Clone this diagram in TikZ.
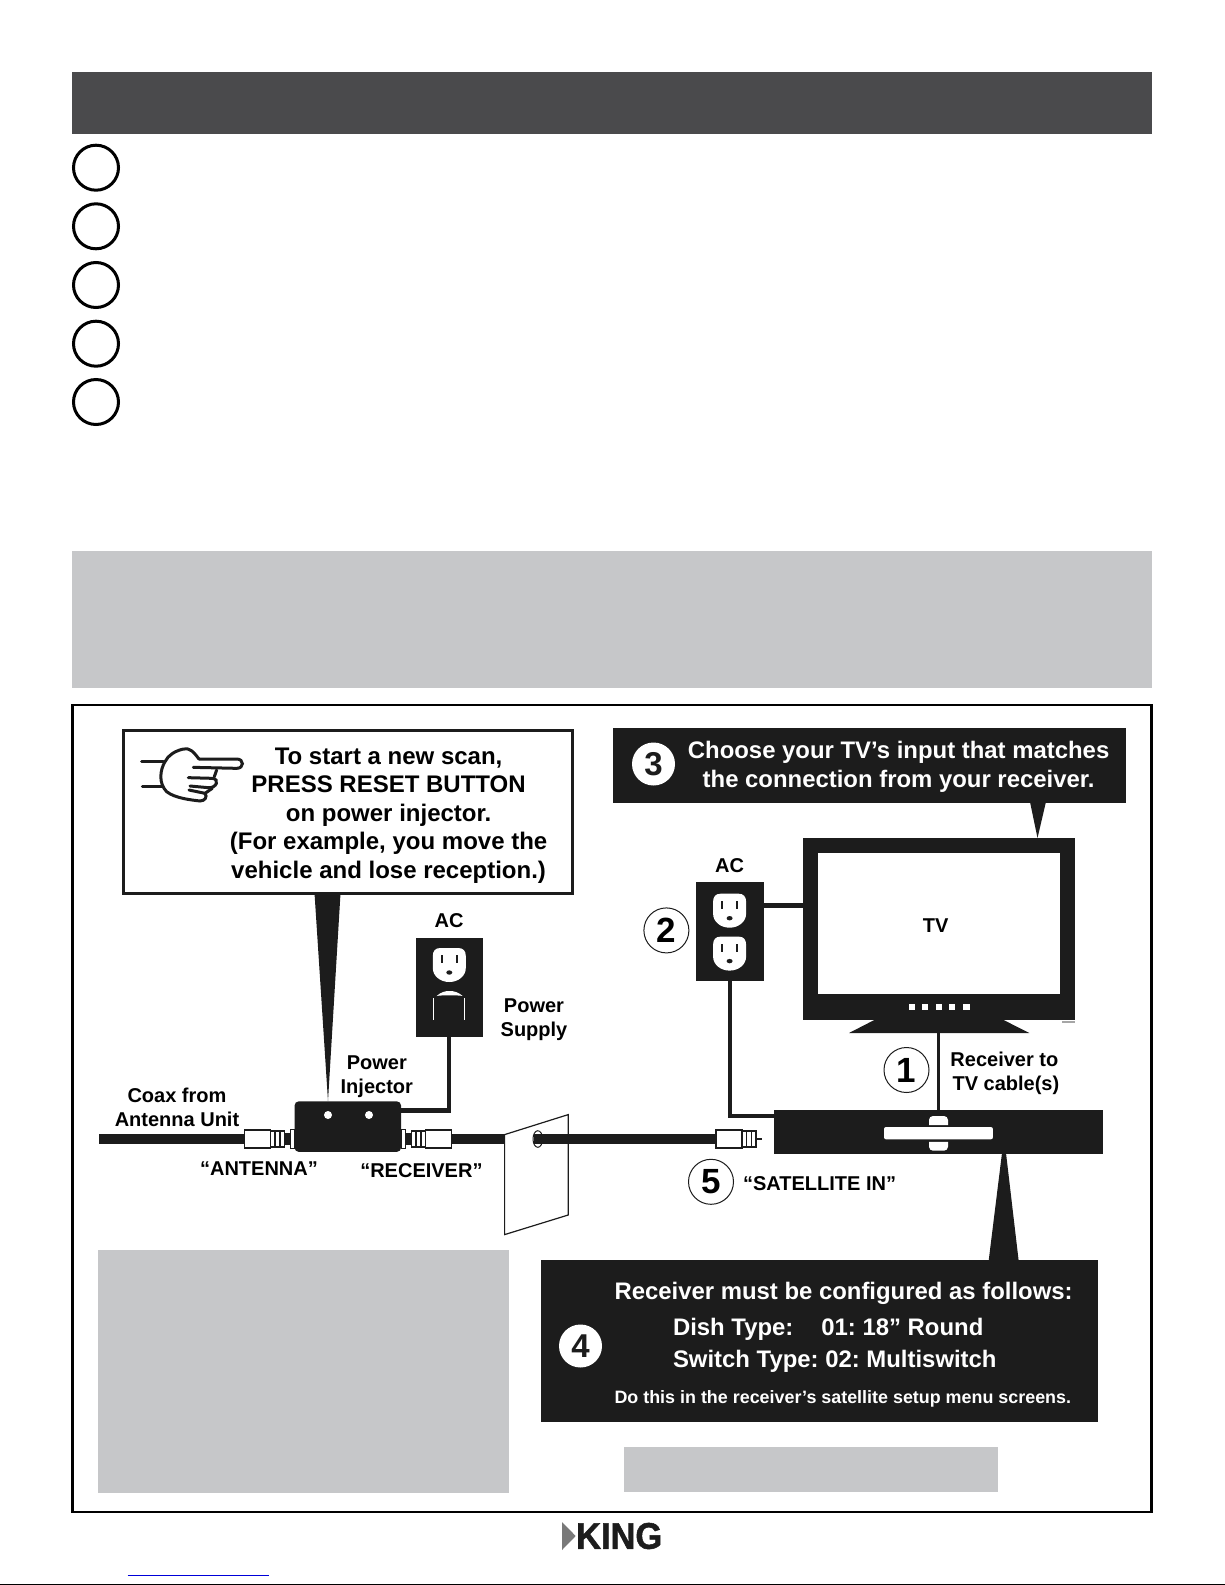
\documentclass[tikz,border=0pt]{standalone}
\usepackage{fontspec}
\setmainfont{Liberation Sans}
\newfontfamily\logofont[BoldFeatures={FakeBold=1.5}]{Liberation Sans}
\usepackage{tikz}
\usetikzlibrary{positioning}
\definecolor{ink}{HTML}{1C1C1C}
\definecolor{bar}{HTML}{4A4A4C}
\definecolor{panel}{HTML}{C6C7C9}
\tikzset{
  box/.style={rectangle, inner sep=0pt, outer sep=0pt},
  txt/.style={inner sep=0pt, outer sep=0pt, align=center, font=\bfseries\fontsize{20}{24}\selectfont},
  bigtxt/.style={inner sep=0pt, outer sep=0pt, align=center, font=\bfseries\fontsize{24}{28.6}\selectfont},
  wtxt/.style={inner sep=0pt, outer sep=0pt, text=white, font=\bfseries\fontsize{23.9}{29.3}\selectfont},
  numring/.style={circle, draw=ink, fill=white, line width=1pt, minimum size=45pt, inner sep=0pt, font=\fontsize{35}{35}\selectfont\bfseries},
  numdisc/.style={circle, fill=white, minimum size=43pt, inner sep=0pt, text=ink, font=\fontsize{33}{33}\selectfont\bfseries},
  stepring/.style={circle, draw=black, line width=3pt, minimum size=45pt, inner sep=0pt},
  coax/.style={ink, line width=10pt},
  cord/.style={ink, line width=4.5pt},
  outlet/.pic={
    \fill[white] (-9,-17) -- (9,-17) .. controls (14,-17) and (16.5,-14) .. (16.5,-9) -- (16.5,3)
      .. controls (16.5,11) and (9,17) .. (0,17) .. controls (-9,17) and (-16.5,11) .. (-16.5,3)
      -- (-16.5,-9) .. controls (-16.5,-14) and (-14,-17) .. (-9,-17) -- cycle;
    \fill[ink] (-8.3,-10) rectangle (-6.5,-2);
    \fill[ink] (6.5,-10) rectangle (8.3,-2);
    \fill[ink] (0,7.5) ellipse (3 and 2.2);
  },
  fitting/.pic={
    % sleeve and nut, drawn from the coax end
    \draw[ink, fill=white, line width=1.3pt] (0,-9) rectangle (26,9);
    \draw[ink, fill=white, line width=1.3pt] (26,-8) rectangle (40,8);
    \draw[ink, line width=1.3pt] (30.5,-8) -- (30.5,8) (35.5,-8) -- (35.5,8);
  }
}
\begin{document}
\frenchspacing
\begin{tikzpicture}[x=1pt, y=-1pt, node distance=20pt, on grid, line join=miter]
    \useasboundingbox (0,0) rectangle (1225,1585);

    % top of the page
    \node[box, fill=bar, minimum width=1080pt, minimum height=62pt] (head) at (612,103) {};
    \foreach \i/\y in {1/167.7, 2/226.3, 3/285, 4/343.7, 5/402}
      \node[stepring] (step_\i) at (96,\y) {};
    \node[box, fill=panel, minimum width=1080pt, minimum height=137pt] (note_top) at (612,619.5) {};

    % frame and grey patches
    \node[box, draw=black, line width=2.2pt, minimum width=1079pt, minimum height=807pt] (frame) at (612,1108.5) {};
    \node[box, fill=panel, minimum width=411.5pt, minimum height=243pt] (note_left) at (303.7,1371.5) {};
    \node[box, fill=panel, minimum width=374pt, minimum height=45pt] (note_low) at (810.6,1469.3) {};

    % reset callout
    \fill[ink] (314.3,890) -- (340.7,890) -- (328,1101) -- cycle;
    \node[box, draw=ink, fill=white, line width=2.5pt, minimum width=449pt, minimum height=163pt] (reset) at (347.8,812) {};
    \node[bigtxt] (reset_txt) at (388.6,815.5) {To start a new scan,\\PRESS RESET BUTTON\\on power injector.\\(For example, you move the\\vehicle and lose reception.)};
    \begin{scope}[shift={(125,735)}, x=.3333pt, y=-.3333pt, ink, line width=3pt, line cap=round]
      \draw (50,80) -- (115,80) (52,153) -- (110,153);
      \draw (222,72) -- (335,72) .. controls (358,72) and (358,100) .. (335,100) -- (205,97);
      \draw (222,72) .. controls (205,50) and (195,38) .. (175,42) .. controls (150,48) and (130,60) .. (120,80)
        .. controls (105,105) and (100,145) .. (125,170) .. controls (150,190) and (200,195) .. (225,198)
        .. controls (240,198) and (248,185) .. (240,175) -- (192,165);
      \draw (190,128) -- (262,130) .. controls (285,132) and (275,160) .. (250,158) -- (195,153);
      \draw (275,105) -- (268,125) (262,160) -- (240,175);
    \end{scope}

    % left outlet, power injector and its coax
    \node[box, fill=ink, minimum width=67pt, minimum height=99pt] (plate_a) at (449.1,987.5) {};
    \node[txt] (ac_a) [above=66.5pt of plate_a] {AC};
    \pic at (449.3,965) {outlet};
    \fill[white] (436.7,996) .. controls (441,992) and (445,991) .. (449.5,991) .. controls (454,991) and (458,992) .. (462.7,996)
      .. controls (458,995) and (441,995) .. cycle;
    \draw[white, line width=1.2pt] (433.3,998) -- (433.3,1020) (464.5,998) -- (464.5,1020);
    \node[box, fill=ink, rounded corners=4pt, minimum width=106.4pt, minimum height=50.4pt] (injector) at (347.8,1126.6) {};
    \fill[white] (328,1115) circle (4) (369,1115) circle (4);
    \draw[cord] (plate_a.south) -- (plate_a.south |- 0,1110.7) -- (injector.east |- 0,1110.7);

    \coordinate (coax_in) at (99.3,1139);
    \coordinate (fit_a) at (244.5,1139);
    \coordinate (fit_b) at (451.5,1139);
    \coordinate (fit_c) at (716,1139);
    \coordinate (wall_a) at (504.6,1139);
    \coordinate (wall_b) at (533.5,1139);
    \draw[coax] (coax_in) -- (fit_a);
    \draw[coax] (fit_b) -- (wall_a);
    \fill[ink] (284,1133) rectangle (295,1145);
    \fill[ink] (401,1133) rectangle (412,1145);
    \draw[ink, fill=white, line width=1.2pt] (290.5,1129.5) rectangle (294.6,1148.5);
    \draw[ink, fill=white, line width=1.2pt] (401.5,1129.5) rectangle (405.5,1148.5);
    \pic at (fit_a) {fitting};
    \pic[xscale=-1] at (fit_b) {fitting};

    % wall and hole
    \draw[ink, fill=white, line width=1.2pt] (504.6,1134.6) -- (568.2,1114.6) -- (568.2,1215) -- (504.6,1234.6) -- cycle;
    \draw[ink, fill=white, line width=1pt] (537.8,1139) ellipse (4.8 and 8.3);
    \draw[coax] (wall_b) -- (fit_c);
    \pic at (fit_c) {fitting};
    \draw[ink, line width=2pt] (756,1139) -- (761.5,1139);

    % TV and right outlet
    \fill[ink] (849,1033) -- (874.3,1020) -- (1003.6,1020) -- (1029.3,1033) -- cycle;
    \node[box, fill=ink, minimum width=272.5pt, minimum height=182.4pt] (tv) at (939.2,929.2) {};
    \node[box, fill=white, minimum width=242.5pt, minimum height=140.7pt] (screen) at (938.8,923.2) {};
    \node[txt] (tv_txt) at (935.6,926) {TV};
    \foreach \x in {911.8, 924.9, 939, 952.2, 966.3}
      \fill[white] (\x-3.2,1003.6) rectangle (\x+3.2,1010);
    \fill[gray!70] (1062,1021) rectangle (1075,1022.5);
    \node[box, fill=ink, minimum width=67.9pt, minimum height=99.2pt] (plate_b) at (729.6,931.4) {};
    \node[txt] (ac_b) [above=66pt of plate_b] {AC};
    \pic at (729.6,910.7) {outlet};
    \pic at (729.6,953.6) {outlet};
    \node[box, fill=ink, minimum width=329pt, minimum height=44.3pt] (receiver) at (938.4,1132.2) {};
    \fill[white, rounded corners=2pt] (884,1127) rectangle (992.9,1139.3);
    \fill[white] (929,1125) {[rounded corners=4pt] -- (929,1116) -- (948,1116)} -- (948,1125) -- cycle;
    \fill[white] (929,1141.8) {[rounded corners=4pt] -- (929,1150.7) -- (948,1150.7)} -- (948,1141.8) -- cycle;
    \draw[cord] (plate_b.east |- 0,905.5) -- (tv.west |- 0,905.5);
    \draw[cord] (730,981) -- (730,1116) -- (receiver.west |- 0,1116);
    \draw[ink, line width=3.6pt] (938.6,1033) -- (938.6,1110);

    % choose input callout
    \fill[ink] (1029.6,800) -- (1046.4,800) -- (1037.5,838) -- cycle;
    \node[box, fill=ink, minimum width=513pt, minimum height=75.4pt] (input_box) at (869,765.2) {};
    \node[numdisc] (num_3) at (653.5,764) {3};
    \node[wtxt, align=center] (input_txt) at (898.6,766.6) {Choose your TV’s input that matches\\the connection from your receiver.};

    % receiver setup callout
    \fill[ink] (1002,1153) -- (1006,1153) -- (1018.8,1262) -- (988.5,1262) -- cycle;
    \node[box, fill=ink, minimum width=557pt, minimum height=162pt] (setup_box) at (819,1341) {};
    \node[numdisc] (num_4) at (580.5,1346) {4};
    \node[wtxt, anchor=west] (setup_a) at (614.5,1293.7) {Receiver must be configured as follows:};
    \node[wtxt, anchor=west] (setup_b) at (673,1329) {Dish Type:\hspace{28pt}01: 18” Round};
    \node[wtxt, anchor=west] (setup_c) at (673,1361) {Switch Type: 02: Multiswitch};
    \node[wtxt, anchor=west, font=\bfseries\fontsize{17.9}{22}\selectfont] (setup_d) at (614.5,1399) {Do this in the receiver’s satellite setup menu screens.};

    % numbered rings and labels
    \node[numring] (num_2) at (666.4,930.4) {2};
    \node[numring] (num_1) at (906.5,1070) {1};
    \node[numring] (num_5) at (711,1181.8) {5};
    \node[txt] (supply_txt) at (534,1020) {Power\\Supply};
    \node[txt] (injector_txt) at (376.8,1076.2) {Power\\Injector};
    \node[txt] (coax_txt) at (177,1107) {Coax from\\Antenna Unit};
    \node[txt] (antenna_txt) at (259,1168.6) {“ANTENNA”};
    \node[txt] (receiver_txt) at (421.4,1170.4) {“RECEIVER”};
    \node[txt] (cable_txt) at (1004.4,1073.4) {Receiver to\\\hspace{3pt}TV cable(s)};
    \node[txt] (sat_txt) at (819.6,1183.6) {“SATELLITE IN”};

    % foot of the page
    \fill[gray!95!black] (562,1522) -- (575.7,1536) -- (562,1550) -- cycle;
    \node[inner sep=0pt, anchor=west, text=ink, font=\logofont\bfseries\fontsize{37}{37}\selectfont] (logo) at (576,1536) {\scalebox{.93}[1]{KING}};
    \draw[blue!85!black, line width=1pt] (127.5,1575.3) -- (268.8,1575.3);
    \draw[black, line width=1.5pt] (0,1584.3) -- (1225,1584.3);
\end{tikzpicture}
\end{document}
